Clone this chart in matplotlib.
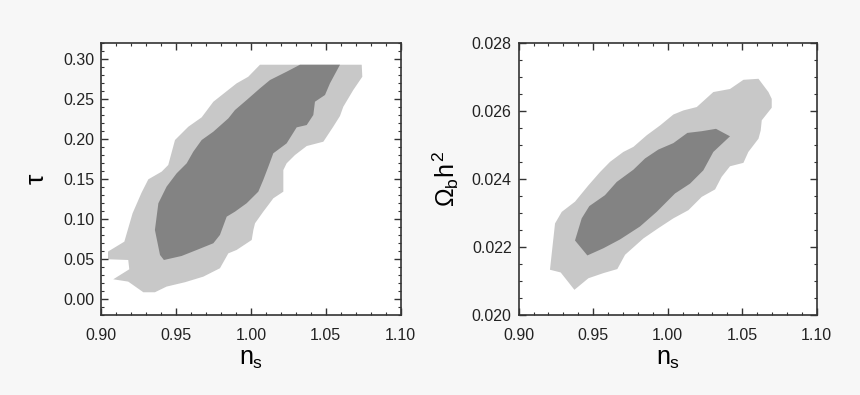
import matplotlib
matplotlib.use("Agg")
import matplotlib.pyplot as plt
from matplotlib.ticker import MultipleLocator, FormatStrFormatter

plt.rcParams['font.family'] = ['Liberation Sans', 'DejaVu Sans']
plt.rcParams['mathtext.fontset'] = 'custom'
plt.rcParams['mathtext.rm'] = 'Liberation Sans'
plt.rcParams['mathtext.it'] = 'Liberation Sans'

# left panel: tau vs n_s, outer (95%) and inner (68%) regions
tau_outer_ns = [0.9047, 0.9156, 0.9211, 0.9271, 0.9316, 0.9405, 0.9449, 0.9494, 0.9583, 0.9672,
                0.9750, 0.9905, 0.9983, 1.0061, 1.0740, 1.0744, 1.0684, 1.0617, 1.0595, 1.0550,
                1.0484, 1.0373, 1.0295, 1.0239, 1.0217, 1.0217, 1.0150, 1.0117, 1.0083, 1.0028,
                1.0017, 1.0006, 0.9905, 0.9850, 0.9794, 0.9683, 0.9560, 0.9438, 0.9360, 0.9283,
                0.9182, 0.9082, 0.9189, 0.9182, 0.9047]
tau_outer = [0.0592, 0.0716, 0.1070, 0.1328, 0.1494, 0.1590, 0.1673, 0.1985, 0.2151, 0.2268,
             0.2463, 0.2692, 0.2775, 0.2925, 0.2925, 0.2775, 0.2610, 0.2400, 0.2285, 0.2151,
             0.1964, 0.1910, 0.1798, 0.1694, 0.1610, 0.1340, 0.1257, 0.1174, 0.1090, 0.0945,
             0.0862, 0.0737, 0.0612, 0.0570, 0.0384, 0.0279, 0.0209, 0.0155, 0.0084, 0.0084,
             0.0217, 0.0246, 0.0371, 0.0487, 0.0496]

tau_inner_ns = [0.9383, 0.9360, 0.9394, 0.9420, 0.9538, 0.9639, 0.9750, 0.9794, 0.9839, 0.9894,
                0.9972, 1.0050, 1.0083, 1.0117, 1.0150, 1.0239, 1.0306, 1.0373, 1.0417, 1.0428,
                1.0495, 1.0528, 1.0595, 1.0328, 1.0239, 1.0128, 1.0061, 0.9972, 0.9894, 0.9850,
                0.9750, 0.9672, 0.9616, 0.9572, 0.9505, 0.9438]
tau_inner = [0.1195, 0.0862, 0.0550, 0.0487, 0.0537, 0.0612, 0.0696, 0.0800, 0.1028, 0.1090,
             0.1195, 0.1340, 0.1486, 0.1652, 0.1819, 0.1943, 0.2143, 0.2172, 0.2297, 0.2463,
             0.2547, 0.2692, 0.2925, 0.2925, 0.2838, 0.2734, 0.2630, 0.2484, 0.2359, 0.2255,
             0.2089, 0.1985, 0.1839, 0.1694, 0.1569, 0.1403]

# right panel: omega_b h^2 vs n_s
ob_outer_ns = [0.9210, 0.9282, 0.9374, 0.9468, 0.9568, 0.9662, 0.9714, 0.9837, 0.9937, 1.0038,
               1.0139, 1.0228, 1.0318, 1.0362, 1.0418, 1.0508, 1.0541, 1.0609, 1.0624, 1.0631,
               1.0698, 1.0698, 1.0676, 1.0609, 1.0508, 1.0418, 1.0306, 1.0195, 1.0105, 1.0038,
               0.9949, 0.9859, 0.9770, 0.9702, 0.9613, 0.9546, 0.9468, 0.9378, 0.9289, 0.9244]
ob_outer = [0.02133, 0.02125, 0.02074, 0.02108, 0.02123, 0.02135, 0.02177, 0.02225, 0.02255, 0.02284,
            0.02308, 0.02347, 0.02369, 0.02406, 0.02437, 0.02447, 0.02479, 0.02518, 0.02542, 0.02572,
            0.02609, 0.02635, 0.02655, 0.02694, 0.02691, 0.02664, 0.02655, 0.02611, 0.02601, 0.02589,
            0.02557, 0.02528, 0.02494, 0.02479, 0.02450, 0.02420, 0.02381, 0.02333, 0.02303, 0.02269]

ob_inner_ns = [0.9378, 0.9461, 0.9568, 0.9680, 0.9814, 0.9926, 1.0049, 1.0150, 1.0239, 1.0306,
               1.0418, 1.0324, 1.0228, 1.0132, 1.0038, 0.9937, 0.9848, 0.9770, 0.9658, 0.9579,
               0.9474, 0.9423]
ob_inner = [0.02219, 0.02175, 0.02196, 0.02222, 0.02260, 0.02303, 0.02357, 0.02386, 0.02425, 0.02479,
            0.02525, 0.02547, 0.02540, 0.02535, 0.02505, 0.02486, 0.02460, 0.02427, 0.02391, 0.02352,
            0.02320, 0.02284]

light = '#c8c8c8'
dark = '#838383'

fig = plt.figure(figsize=(8.6, 3.95), dpi=100)
fig.patch.set_facecolor('#f7f7f7')
ax1 = fig.add_axes([0.1174, 0.2025, 0.3485, 0.6894])
ax2 = fig.add_axes([0.6031, 0.2025, 0.3466, 0.6894])

ax1.fill(tau_outer_ns, tau_outer, color=light, lw=0)
ax1.fill(tau_inner_ns, tau_inner, color=dark, lw=0)
ax2.fill(ob_outer_ns, ob_outer, color=light, lw=0)
ax2.fill(ob_inner_ns, ob_inner, color=dark, lw=0)

ax1.set_xlim(0.90, 1.10)
ax1.set_ylim(-0.02, 0.32)
ax1.yaxis.set_major_locator(MultipleLocator(0.05))
ax1.yaxis.set_minor_locator(MultipleLocator(0.01))
ax1.yaxis.set_major_formatter(FormatStrFormatter('%.2f'))
ax1.set_ylabel(r'$\tau$', fontsize=19, labelpad=10)

ax2.set_xlim(0.90, 1.10)
ax2.set_ylim(0.020, 0.028)
ax2.yaxis.set_major_locator(MultipleLocator(0.002))
ax2.yaxis.set_minor_locator(MultipleLocator(0.0005))
ax2.yaxis.set_major_formatter(FormatStrFormatter('%.3f'))
ax2.set_ylabel(r'$\Omega_{\rm b}h^2$', fontsize=18, labelpad=8)

for ax in (ax1, ax2):
    ax.set_facecolor('white')
    ax.xaxis.set_major_locator(MultipleLocator(0.05))
    ax.xaxis.set_minor_locator(MultipleLocator(0.01))
    ax.xaxis.set_major_formatter(FormatStrFormatter('%.2f'))
    ax.set_xlabel(r'$n_{\rm s}$', fontsize=18, labelpad=3)
    ax.tick_params(which='both', direction='in', top=True, right=True,
                   color='#333333', labelsize=11.5, labelcolor='#222222')
    ax.tick_params(which='major', length=5, width=1)
    ax.tick_params(axis='y', which='major', pad=5)
    ax.tick_params(axis='x', which='major', pad=9)
    ax.tick_params(which='minor', length=2.5, width=0.8)
    for s in ax.spines.values():
        s.set_color('#333333')
        s.set_linewidth(1.2)

fig.savefig('out.png', dpi=100, facecolor=fig.get_facecolor())
